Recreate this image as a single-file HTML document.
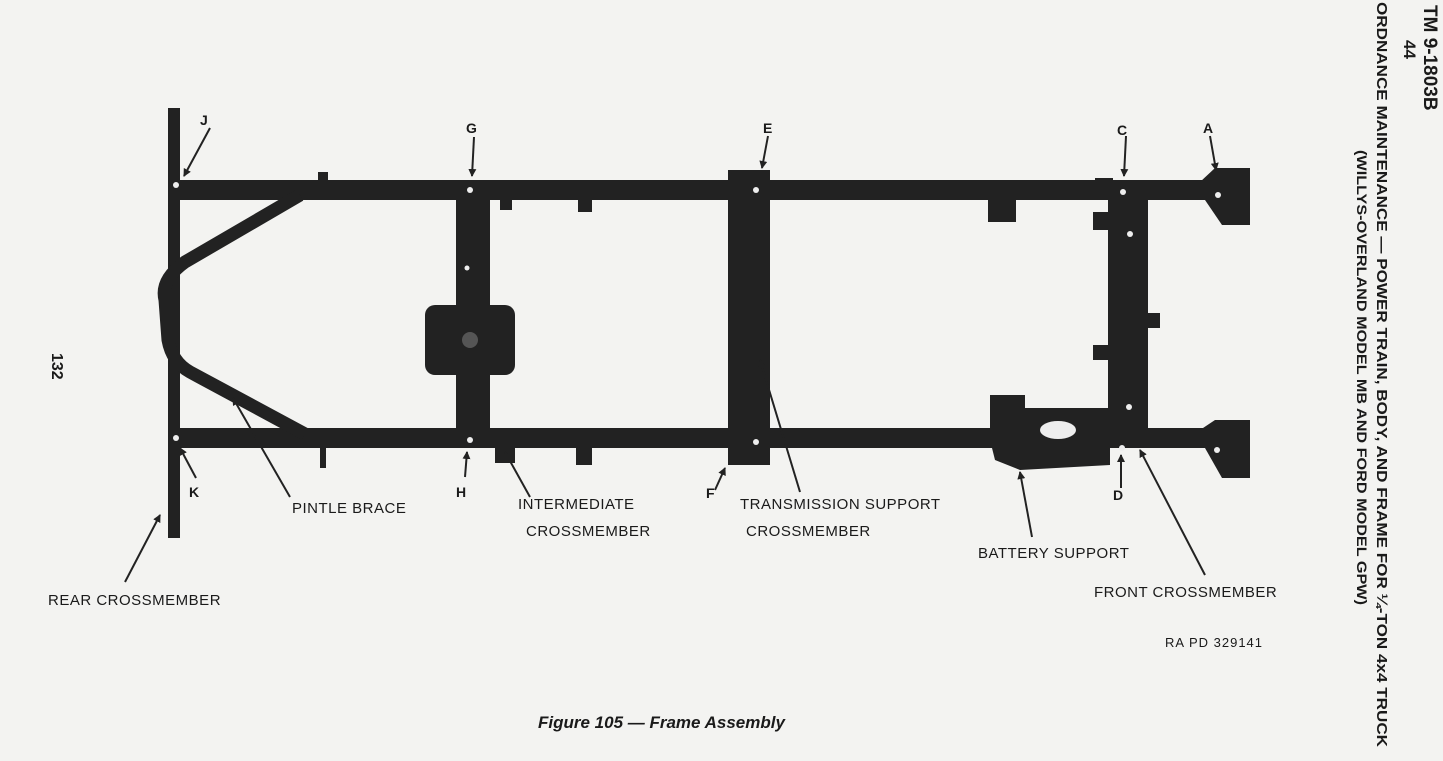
<!DOCTYPE html>
<html><head><style>
html,body{margin:0;padding:0;background:#f3f3f1;}
svg{display:block}
text{font-family:"Liberation Sans",sans-serif;fill:#1a1a1a}
</style></head><body>
<svg width="1443" height="761" viewBox="0 0 1443 761">
<defs><marker id="ah" markerWidth="8" markerHeight="8" refX="7" refY="4" orient="auto" markerUnits="userSpaceOnUse"><path d="M0,0 L8,4 L0,8 Z" fill="#222"/></marker></defs>
<rect width="1443" height="761" fill="#f3f3f1"/>
<g fill="#222" stroke="none">
<rect x="168" y="108" width="12" height="430"/>
<rect x="172" y="180" width="1050" height="20"/>
<rect x="172" y="428" width="1050" height="20"/>
<polygon points="1200,182 1215,168 1250,168 1250,225 1222,225 1205,200"/>
<polygon points="1200,430 1215,420 1250,420 1250,478 1222,478 1205,448"/>
<rect x="456" y="190" width="34" height="250"/>
<rect x="425" y="305" width="90" height="70" rx="10"/>
<rect x="728" y="170" width="42" height="295"/>
<rect x="1108" y="185" width="40" height="262"/>
<rect x="1093" y="212" width="15" height="18"/>
<rect x="1093" y="345" width="15" height="15"/>
<rect x="1148" y="313" width="12" height="15"/>
<polygon points="990,395 1025,395 1025,408 1110,408 1110,465 1020,470 995,460 990,440"/>
<rect x="988" y="200" width="28" height="22"/>
<rect x="500" y="198" width="12" height="12"/>
<rect x="578" y="198" width="14" height="14"/>
<rect x="495" y="445" width="20" height="18"/>
<rect x="576" y="445" width="16" height="20"/>
<rect x="1095" y="178" width="18" height="6"/>
<rect x="318" y="172" width="10" height="10"/>
<rect x="320" y="446" width="6" height="22"/>
</g>
<path d="M300,195 L185,262 Q160,280 165,300 L168,340 Q172,362 190,372 L305,434" fill="none" stroke="#222" stroke-width="13"/>
<g fill="#eee">
<circle cx="1123" cy="192" r="3"/><circle cx="1130" cy="234" r="3"/><circle cx="1129" cy="407" r="3"/><circle cx="1122" cy="448" r="3"/>
<circle cx="1218" cy="195" r="3"/><circle cx="1217" cy="450" r="3"/>
<circle cx="470" cy="190" r="3"/><circle cx="470" cy="440" r="3"/><circle cx="467" cy="268" r="2.5"/>
<circle cx="756" cy="190" r="3"/><circle cx="756" cy="442" r="3"/>
<circle cx="176" cy="185" r="3"/><circle cx="176" cy="438" r="3"/>
<ellipse cx="1058" cy="430" rx="18" ry="9"/>
<circle cx="470" cy="340" r="8" fill="#555"/>
</g>
<g stroke="#222" stroke-width="2" fill="none" marker-end="url(#ah)">
<line x1="210" y1="128" x2="184" y2="176"/>
<line x1="474" y1="137" x2="472" y2="176"/>
<line x1="768" y1="136" x2="762" y2="168"/>
<line x1="1126" y1="136" x2="1124" y2="176"/>
<line x1="1210" y1="136" x2="1216" y2="170"/>
<line x1="196" y1="478" x2="180" y2="448"/>
<line x1="465" y1="477" x2="467" y2="452"/>
<line x1="715" y1="490" x2="725" y2="468"/>
<line x1="1121" y1="488" x2="1121" y2="455"/>
<line x1="290" y1="497" x2="233" y2="398"/>
<line x1="530" y1="497" x2="505" y2="452"/>
<line x1="800" y1="492" x2="760" y2="360"/>
<line x1="1032" y1="537" x2="1020" y2="472"/>
<line x1="1205" y1="575" x2="1140" y2="450"/>
<line x1="125" y1="582" x2="160" y2="515"/>
</g>
<g font-size="14" font-weight="bold">
<text x="200" y="125">J</text><text x="466" y="133">G</text><text x="763" y="133">E</text>
<text x="1117" y="135">C</text><text x="1203" y="133">A</text>
<text x="189" y="497">K</text><text x="456" y="497">H</text><text x="706" y="498">F</text><text x="1113" y="500">D</text>
</g>
<g font-size="15" letter-spacing="0.5">
<text x="292" y="513">PINTLE BRACE</text>
<text x="518" y="509">INTERMEDIATE</text><text x="526" y="536">CROSSMEMBER</text>
<text x="740" y="509">TRANSMISSION SUPPORT</text><text x="746" y="536">CROSSMEMBER</text>
<text x="978" y="558">BATTERY SUPPORT</text>
<text x="1094" y="597">FRONT CROSSMEMBER</text>
<text x="48" y="605">REAR CROSSMEMBER</text>
</g>
<text x="1165" y="647" font-size="13" letter-spacing="1">RA PD 329141</text>
<text x="538" y="728" font-size="17" font-style="italic" font-weight="bold">Figure 105 — Frame Assembly</text>
<text transform="translate(52,353) rotate(90)" font-size="16" font-weight="bold">132</text>
<text transform="translate(1424,5) rotate(90)" font-size="19" font-weight="bold">TM 9-1803B</text>
<text transform="translate(1404,40) rotate(90)" font-size="17" font-weight="bold">44</text>
<text transform="translate(1377,2) rotate(90)" font-size="14.5" font-weight="bold" textLength="745" lengthAdjust="spacingAndGlyphs">ORDNANCE MAINTENANCE — POWER TRAIN, BODY, AND FRAME FOR ¼-TON 4x4 TRUCK</text>
<text transform="translate(1357,150) rotate(90)" font-size="14" font-weight="bold" textLength="455" lengthAdjust="spacingAndGlyphs">(WILLYS-OVERLAND MODEL MB AND FORD MODEL GPW)</text>
</svg>
</body></html>
